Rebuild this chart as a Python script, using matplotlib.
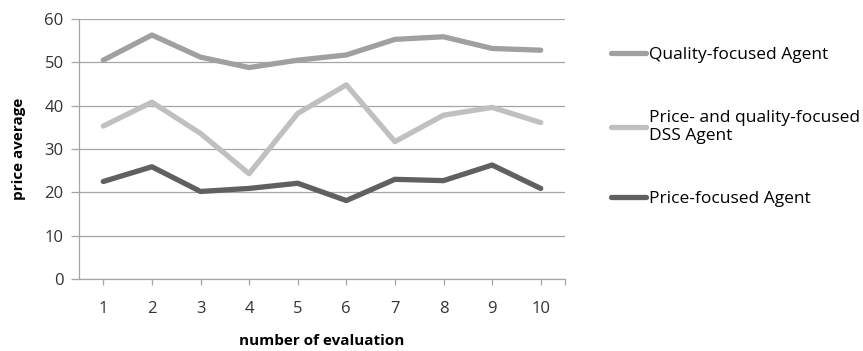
import matplotlib.pyplot as plt
import numpy as np

plt.rcParams['font.family'] = ['Open Sans', 'DejaVu Sans']

# evaluations and average price per agent
evaluations = [1, 2, 3, 4, 5, 6, 7, 8, 9, 10]
quality_agent = [50.5, 56.3, 51.2, 48.8, 50.5, 51.7, 55.3, 55.9, 53.2, 52.8]
dss_agent = [35.3, 40.8, 33.6, 24.3, 38.2, 44.8, 31.7, 37.8, 39.6, 36.1]
price_agent = [22.5, 25.9, 20.2, 20.9, 22.1, 18.1, 23.0, 22.7, 26.3, 20.9]

labels = ["Quality-focused Agent",
          "Price- and quality-focused\nDSS Agent",
          "Price-focused Agent"]
colors = ["#a0a0a0", "#c0c0c0", "#606060"]

fig = plt.figure(figsize=(8.63, 3.51), dpi=100)
ax = fig.add_axes([79 / 863, 72 / 351, 486 / 863, 260 / 351])

for values, label, color in zip([quality_agent, dss_agent, price_agent], labels, colors):
    ax.plot(evaluations, values, color=color, lw=3.8, label=label,
            solid_capstyle='round', solid_joinstyle='round')

ax.set_xlim(0.5, 10.5)
ax.set_ylim(0, 60)
ax.set_yticks(np.arange(0, 61, 10))
ax.set_xticks(evaluations)
ax.set_xticks([10.5], minor=True)
ax.yaxis.grid(True, color="#a6a6a6", lw=0.9)
ax.set_axisbelow(True)

for side in ["top", "right"]:
    ax.spines[side].set_visible(False)
for side in ["left", "bottom"]:
    ax.spines[side].set_color("#a6a6a6")
    ax.spines[side].set_linewidth(0.9)

ax.tick_params(axis='y', length=6, color="#a6a6a6", width=0.9, labelsize=12,
               labelcolor="#333333", pad=5)
ax.tick_params(axis='x', which='both', length=4, color="#a6a6a6", width=0.9,
               labelsize=12, labelcolor="#333333", pad=12)

ax.set_xlabel("number of evaluation", fontsize=11, fontweight='bold', labelpad=12)
ax.set_ylabel("price average", fontsize=11, fontweight='bold', labelpad=13)

fig.legend(loc='upper left', bbox_to_anchor=(604 / 863, 1 - 40 / 351), frameon=False,
           fontsize=12.5, handlelength=2.0, handletextpad=0.2, labelspacing=2.7,
           borderaxespad=0)

fig.savefig("out.png", dpi=100)
